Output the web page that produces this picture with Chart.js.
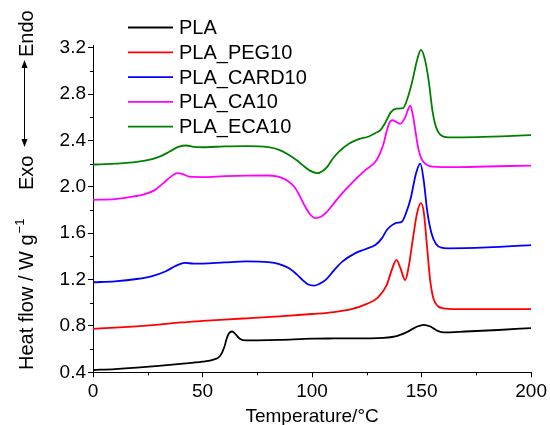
<!DOCTYPE html>
<html>
<head>
<meta charset="utf-8">
<script src="https://cdn.jsdelivr.net/npm/chart.js@4.4.1/dist/chart.umd.min.js"></script>
<style>
  html, body { margin: 0; padding: 0; background: #fff; }
  #c { display: block; }
</style>
</head>
<body>
<canvas id="c" width="550" height="425"></canvas>
<script>
// DSC heating traces (temperature in °C, heat flow in W/g, curves shifted for clarity)
const seriesNames = ['PLA', 'PLA_PEG10', 'PLA_CARD10', 'PLA_CA10', 'PLA_ECA10'];
const seriesColors = ['#000000', '#ff0000', '#0000ff', '#ff00ff', '#008000'];

const plaT = [0, 10, 20, 30, 40, 50, 55, 58, 60, 61, 62, 63.5, 65, 67, 70, 75, 85, 100, 110, 120, 130, 138, 143, 148, 151, 154, 157, 160, 170, 185, 200];
const plaH = [0.42, 0.428, 0.44, 0.455, 0.472, 0.492, 0.51, 0.54, 0.62, 0.69, 0.735, 0.752, 0.73, 0.69, 0.675, 0.676, 0.68, 0.69, 0.692, 0.693, 0.695, 0.71, 0.745, 0.795, 0.81, 0.795, 0.76, 0.745, 0.752, 0.765, 0.782];

const pegT = [0, 10, 20, 30, 40, 50, 60, 70, 85, 100, 110, 118, 125, 130, 134, 136.5, 138.5, 140.5, 142.5, 144, 146, 148, 149.7, 151, 152.5, 154, 155.5, 157.5, 160, 165, 180, 200];
const pegH = [0.775, 0.785, 0.797, 0.812, 0.83, 0.843, 0.855, 0.866, 0.882, 0.903, 0.92, 0.945, 0.99, 1.045, 1.15, 1.29, 1.37, 1.29, 1.195, 1.3, 1.55, 1.78, 1.86, 1.78, 1.48, 1.18, 1.03, 0.97, 0.952, 0.946, 0.946, 0.945];

const cardT = [0, 10, 20, 27, 33, 38, 42, 46, 50, 60, 70, 80, 85, 89.5, 93, 95.6, 98, 100.9, 103.5, 106.2, 110, 113.8, 119.8, 124, 129, 132, 134.2, 136.5, 138.5, 141, 143, 145, 147.5, 149.4, 151, 152.5, 154.5, 156.5, 159, 162, 180, 200];
const cardH = [1.177, 1.185, 1.205, 1.23, 1.27, 1.32, 1.345, 1.337, 1.338, 1.348, 1.357, 1.35, 1.333, 1.298, 1.245, 1.197, 1.16, 1.148, 1.165, 1.197, 1.28, 1.355, 1.428, 1.46, 1.50, 1.56, 1.63, 1.67, 1.69, 1.70, 1.78, 1.90, 2.12, 2.20, 2.05, 1.80, 1.60, 1.51, 1.475, 1.47, 1.478, 1.497];

const caT = [0, 10, 18, 24, 28, 32, 35, 38.5, 41, 44, 50, 60, 70, 80, 84, 86.5, 89, 91.8, 94, 96.4, 98.8, 101.7, 104, 106.2, 110, 113.8, 119, 124.4, 129, 131, 132.7, 134.2, 135.5, 136.8, 138.5, 140.3, 142.5, 144.8, 146, 147.1, 148.5, 150, 152, 155, 165, 180, 200];
const caH = [1.888, 1.895, 1.915, 1.94, 1.97, 2.03, 2.08, 2.118, 2.11, 2.088, 2.085, 2.092, 2.097, 2.098, 2.09, 2.075, 2.05, 2.003, 1.935, 1.845, 1.77, 1.73, 1.742, 1.773, 1.86, 1.946, 2.05, 2.147, 2.219, 2.29, 2.377, 2.49, 2.56, 2.575, 2.56, 2.545, 2.6, 2.70, 2.62, 2.49, 2.33, 2.24, 2.195, 2.175, 2.17, 2.176, 2.184];

const ecaT = [0, 10, 20, 27, 31, 35, 39, 42.5, 46, 50, 60, 70, 80, 85, 89.5, 93, 95.6, 99, 102.4, 105, 107, 109.5, 112.3, 116.8, 121, 125.9, 129, 131.2, 133, 136, 138.5, 141.5, 143.5, 145.6, 148, 149.7, 151.5, 153.2, 155, 156.5, 158.5, 162, 175, 200];
const ecaH = [2.193, 2.20, 2.215, 2.24, 2.265, 2.305, 2.345, 2.357, 2.345, 2.342, 2.35, 2.352, 2.343, 2.32, 2.276, 2.23, 2.19, 2.14, 2.118, 2.14, 2.175, 2.245, 2.305, 2.372, 2.41, 2.435, 2.465, 2.49, 2.54, 2.645, 2.675, 2.68, 2.76, 2.90, 3.10, 3.183, 3.1, 2.92, 2.65, 2.52, 2.45, 2.427, 2.43, 2.446];

const xMajorTicks = [0, 50, 100, 150, 200];
const xMinorTicks = [25, 75, 125, 175];
const yMajorTicks = [0.4, 0.8, 1.2, 1.6, 2.0, 2.4, 2.8, 3.2];
const yMinorTicks = [0.6, 1.0, 1.4, 1.8, 2.2, 2.6, 3.0];

const xTitle = 'Temperature/°C';
const yTitleMain = 'Heat flow / W g';
const yTitleSup = '−1';
const endoLabel = 'Endo';
const exoLabel = 'Exo';

const FONT = '"Liberation Sans", Arial, Helvetica, sans-serif';

function pts(xs, ys) { return xs.map((x, i) => ({ x: x, y: ys[i] })); }
const seriesData = [pts(plaT, plaH), pts(pegT, pegH), pts(cardT, cardH), pts(caT, caH), pts(ecaT, ecaH)];

const datasets = seriesNames.map((name, i) => ({
  label: name,
  data: seriesData[i],
  borderColor: seriesColors[i],
  backgroundColor: seriesColors[i],
  borderWidth: 1.8,
  showLine: true,
  pointRadius: 0,
  cubicInterpolationMode: 'monotone',
  fill: false
}));

// minor tick marks, inline legend and the rotated left-hand annotations
const decorations = {
  id: 'decorations',
  afterDraw(chart) {
    const ctx = chart.ctx;
    const xs = chart.scales.x, ys = chart.scales.y;
    const area = chart.chartArea;
    ctx.save();
    ctx.strokeStyle = '#000';
    ctx.lineWidth = 1;
    ctx.beginPath();
    xMinorTicks.forEach(v => {
      const px = Math.round(xs.getPixelForValue(v)) + 0.5;
      ctx.moveTo(px, area.bottom);
      ctx.lineTo(px, area.bottom + 3);
    });
    yMinorTicks.forEach(v => {
      const py = Math.round(ys.getPixelForValue(v)) + 0.5;
      ctx.moveTo(area.left, py);
      ctx.lineTo(area.left - 3, py);
    });
    ctx.stroke();

    // legend
    ctx.font = '20px ' + FONT;
    ctx.textBaseline = 'middle';
    ctx.textAlign = 'left';
    chart.data.datasets.forEach((ds, i) => {
      const y = 27.5 + i * 24.8;
      ctx.strokeStyle = ds.borderColor;
      ctx.lineWidth = 1.8;
      ctx.beginPath();
      ctx.moveTo(128, y);
      ctx.lineTo(173, y);
      ctx.stroke();
      ctx.fillStyle = '#000';
      ctx.fillText(ds.label, 179, y + 1);
    });

    // left annotations (rotated)
    ctx.fillStyle = '#000';
    ctx.strokeStyle = '#000';
    ctx.textBaseline = 'alphabetic';
    ctx.textAlign = 'left';
    ctx.font = '20px ' + FONT;

    ctx.save();
    ctx.translate(33, 57);
    ctx.rotate(-Math.PI / 2);
    ctx.fillText(endoLabel, 0, 0);
    ctx.restore();

    ctx.save();
    ctx.translate(33, 190);
    ctx.rotate(-Math.PI / 2);
    ctx.fillText(exoLabel, 0, 0);
    ctx.restore();

    // double-headed arrow between Exo and Endo
    const ax = 24.5, top = 60, bot = 147;
    ctx.lineWidth = 1;
    ctx.beginPath();
    ctx.moveTo(ax, top + 6);
    ctx.lineTo(ax, bot - 6);
    ctx.stroke();
    ctx.beginPath();
    ctx.moveTo(ax, top);
    ctx.lineTo(ax - 3, top + 8);
    ctx.lineTo(ax + 3, top + 8);
    ctx.closePath();
    ctx.fill();
    ctx.beginPath();
    ctx.moveTo(ax, bot);
    ctx.lineTo(ax - 3, bot - 8);
    ctx.lineTo(ax + 3, bot - 8);
    ctx.closePath();
    ctx.fill();

    // y axis title with superscript
    ctx.save();
    ctx.translate(33, 370);
    ctx.rotate(-Math.PI / 2);
    ctx.font = '20px ' + FONT;
    ctx.fillText(yTitleMain, 0, 0);
    const w = ctx.measureText(yTitleMain).width;
    ctx.font = '13px ' + FONT;
    ctx.fillText(yTitleSup, w + 1, -9);
    ctx.restore();

    ctx.restore();
  }
};

new Chart(document.getElementById('c'), {
  type: 'scatter',
  data: { datasets: datasets },
  options: {
    responsive: false,
    devicePixelRatio: 1,
    animation: false,
    layout: { padding: { left: 0, top: 45.5, right: 17.3, bottom: 0 } },
    plugins: { legend: { display: false }, tooltip: { enabled: false } },
    scales: {
      x: {
        type: 'linear',
        min: 0,
        max: 200,
        afterBuildTicks(scale) { scale.ticks = xMajorTicks.map(v => ({ value: v })); },
        afterFit(scale) { scale.height = 52.7; },
        ticks: { color: '#000', font: { family: FONT, size: 19 }, padding: 3, maxRotation: 0 },
        grid: { drawOnChartArea: false, drawTicks: true, tickLength: 5, color: '#000' },
        border: { display: true, color: '#000', width: 1 },
        title: { display: true, text: xTitle, color: '#000', font: { family: FONT, size: 19 }, padding: { top: 0, bottom: -3 } }
      },
      y: {
        type: 'linear',
        min: 0.4,
        max: 3.22,
        afterBuildTicks(scale) { scale.ticks = yMajorTicks.map(v => ({ value: v })); },
        afterFit(scale) { scale.width = 93; },
        ticks: { color: '#000', font: { family: FONT, size: 19 }, padding: 2, callback: v => v.toFixed(1) },
        grid: { drawOnChartArea: false, drawTicks: true, tickLength: 5, color: '#000' },
        border: { display: true, color: '#000', width: 1 }
      }
    }
  },
  plugins: [decorations]
});
</script>
</body>
</html>
